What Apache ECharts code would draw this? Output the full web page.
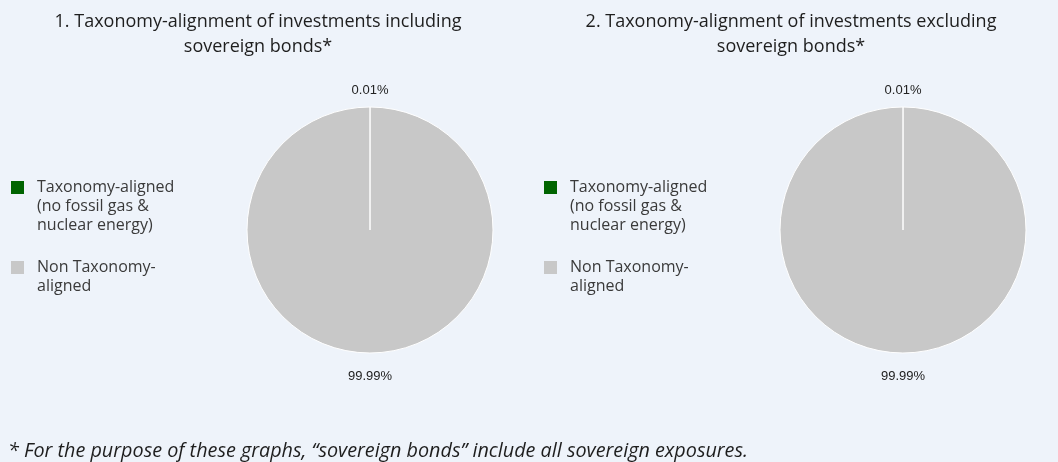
<!DOCTYPE html>
<html>
<head>
    <meta charset="utf-8">
    <title>Taxonomy alignment</title>
    <script src="https://cdn.jsdelivr.net/npm/echarts@6/dist/echarts.min.js"></script>
    <style>
    html, body { margin: 0; padding: 0; background: #EEF3FA; }
    #main { width: 1058px; height: 462px; }
    </style>
</head>
<body>
    <div id="main"></div>
    <script type="text/javascript">
        // data
        var categories = ['Taxonomy-aligned\n(no fossil gas &\nnuclear energy)', 'Non Taxonomy-\naligned'];
        var inclSovereign = [0.01, 99.99];
        var exclSovereign = [0.01, 99.99];
        var chartTitles = [
            '1. Taxonomy-alignment of investments including\nsovereign bonds*',
            '2. Taxonomy-alignment of investments excluding\nsovereign bonds*'
        ];
        var footnote = '* For the purpose of these graphs, \u201Csovereign bonds\u201D include all sovereign exposures.';

        var colors = ['#006400', '#C8C8C8'];
        var myChart = echarts.init(document.getElementById('main'));

        function pieSeries(values, cx) {
            return {
                type: 'pie',
                center: [cx, 230],
                radius: 123,
                startAngle: 90,
                clockwise: true,
                silent: true,
                data: values.map(function (v, i) {
                    return { name: categories[i], value: v };
                }),
                itemStyle: { borderColor: '#FFFFFF', borderWidth: 1 },
                label: {
                    show: true,
                    position: 'outside',
                    formatter: function (p) { return p.value.toFixed(2) + '%'; },
                    fontFamily: 'Liberation Sans',
                    fontSize: 13,
                    color: '#222222'
                },
                labelLine: { show: false },
                labelLayout: function (params) {
                    var r = params.rect;
                    var x = r.x + r.width / 2;
                    if (params.dataIndex === 0) {
                        return { x: x, y: r.y - 16, align: 'center', verticalAlign: 'middle' };
                    }
                    return { x: x, y: r.y + r.height + 23, align: 'center', verticalAlign: 'middle' };
                }
            };
        }

        var legendBase = {
            orient: 'vertical',
            top: 135,
            itemWidth: 13,
            itemHeight: 13,
            itemGap: 4,
            icon: 'rect',
            selectedMode: false,
            itemStyle: { borderWidth: 0 },
            // blank lines above so the first text line sits beside the icon
            formatter: function (name) {
                var n = name.split('\n').length - 1;
                return new Array(n + 1).join('\n') + name;
            },
            textStyle: {
                fontFamily: 'Open Sans',
                fontSize: 16,
                lineHeight: 19,
                color: '#3A3A3A',
                padding: [0, 0, 0, 8]
            }
        };

        var titleStyle = { fontFamily: 'Open Sans', fontSize: 18, fontWeight: 'normal', lineHeight: 25, color: '#1E1E1E' };

        var option = {
            backgroundColor: '#EEF3FA',
            color: colors,
            title: [
                { text: chartTitles[0], left: 253, top: 4, textAlign: 'center', textStyle: titleStyle },
                { text: chartTitles[1], left: 786, top: 4, textAlign: 'center', textStyle: titleStyle },
                {
                    text: footnote, left: 3, top: 436,
                    textStyle: { fontFamily: 'Open Sans', fontSize: 19.8, fontWeight: 'normal', fontStyle: 'italic', color: '#1E1E1E' }
                }
            ],
            legend: [
                Object.assign({}, legendBase, { left: 6, seriesIndex: 0, data: categories.slice() }),
                Object.assign({}, legendBase, { left: 539, seriesIndex: 1, data: categories.slice() })
            ],
            series: [
                pieSeries(inclSovereign, 370),
                pieSeries(exclSovereign, 903)
            ]
        };

        myChart.setOption(option);
    </script>
</body>
</html>
